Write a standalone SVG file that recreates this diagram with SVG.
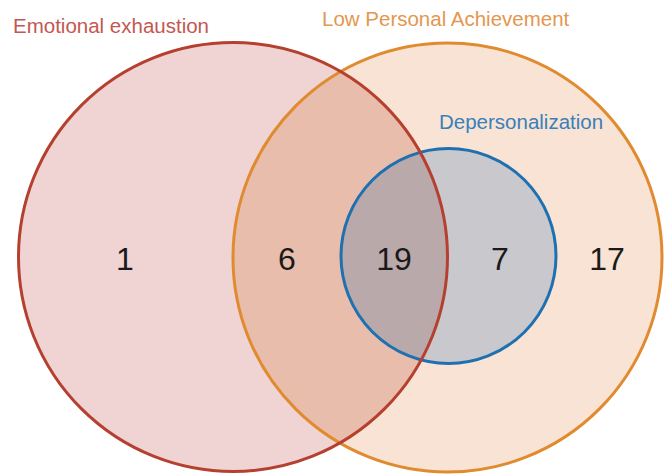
<svg xmlns="http://www.w3.org/2000/svg" width="669" height="475" viewBox="0 0 669 475">
  <style>
    .lbl { font-family: "Liberation Sans", Arial, sans-serif; font-size: 20.5px; }
    .num { font-family: "Liberation Sans", Arial, sans-serif; font-size: 32px; fill: #1a1a1a; text-anchor: middle; }
    .edge { fill: none; stroke-width: 3; }
  </style>
  <defs>
    <circle id="cRed" cx="233" cy="257" r="214.5"/>
    <circle id="cOrange" cx="447.5" cy="257.5" r="214.5"/>
    <circle id="cBlue" cx="448.5" cy="256" r="107.5"/>
    <clipPath id="clipOrange"><use href="#cOrange"/></clipPath>
    <clipPath id="clipBlue"><use href="#cBlue"/></clipPath>
  </defs>
  <rect width="669" height="475" fill="#ffffff"/>

  <g id="fills">
    <use href="#cRed" fill="#efd4d3"/>
    <use href="#cOrange" fill="#f8e3d4"/>
    <use href="#cRed" fill="#e9bdab" clip-path="url(#clipOrange)"/>
    <use href="#cBlue" fill="#c9c9cd"/>
    <use href="#cRed" fill="#b9a9aa" clip-path="url(#clipBlue)"/>
  </g>

  <g id="low-personal-achievement">
    <use href="#cOrange" class="edge" stroke="#e08b30"/>
    <text class="lbl" x="322" y="26" fill="#e3974f">Low Personal Achievement</text>
  </g>
  <g id="depersonalization">
    <use href="#cBlue" class="edge" stroke="#1f70b0" stroke-width="3.5"/>
    <text class="lbl" x="439" y="129" fill="#3b7fb9">Depersonalization</text>
  </g>
  <g id="emotional-exhaustion">
    <use href="#cRed" class="edge" stroke="#b5402f"/>
    <text class="lbl" x="13" y="33" fill="#c45750">Emotional exhaustion</text>
  </g>

  <g id="counts">
    <text class="num" x="125" y="270">1</text>
    <text class="num" x="287" y="270">6</text>
    <text class="num" x="394" y="270">19</text>
    <text class="num" x="500" y="270">7</text>
    <text class="num" x="607" y="270">17</text>
  </g>
</svg>
